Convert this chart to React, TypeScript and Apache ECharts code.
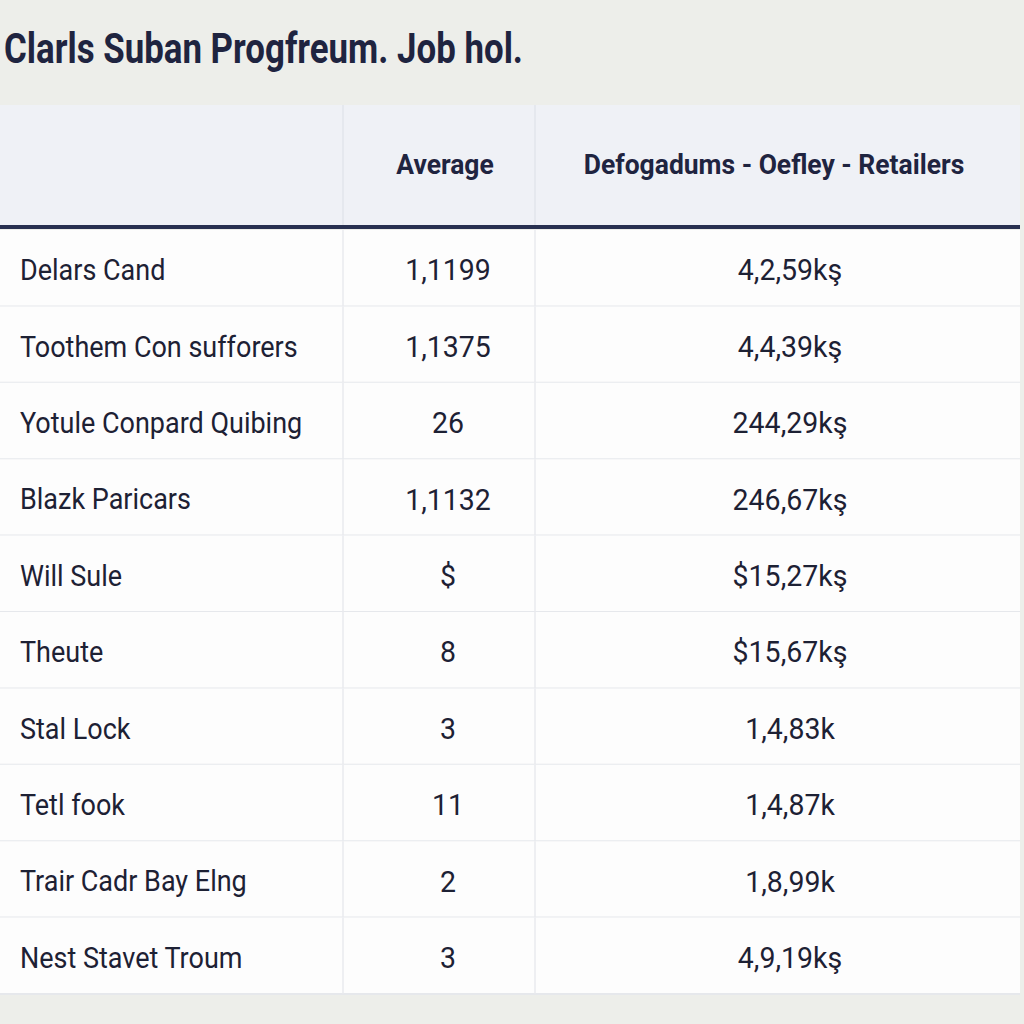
import React, { useEffect, useRef } from "react";
import * as echarts from "echarts";

const titleText = "Clarls Suban Progfreum. Job hol.";
const columnHeaders = ["", "Average", "Defogadums - Oefley - Retailers"];
const rowNames = [
  "Delars Cand",
  "Toothem Con sufforers",
  "Yotule Conpard Quibing",
  "Blazk Paricars",
  "Will Sule",
  "Theute",
  "Stal Lock",
  "Tetl fook",
  "Trair Cadr Bay Elng",
  "Nest Stavet Troum",
];
const averages = ["1,1199", "1,1375", "26", "1,1132", "$", "8", "3", "11", "2", "3"];
const retailers = [
  "4,2,59kş",
  "4,4,39kş",
  "244,29kş",
  "246,67kş",
  "$15,27kş",
  "$15,67kş",
  "1,4,83k",
  "1,4,87k",
  "1,8,99k",
  "4,9,19kş",
];

// layout (pixels)
const COL_EDGES = [0, 343, 535, 1020];
const NAME_X = 20;
const AVG_CX = 448;
const RET_CX = 790;
const HEADER_TOP = 105;
const HEADER_BOTTOM = 225;
const FONT = "Roboto, 'Noto Sans', sans-serif";
const TEXT_COLOR = "#1d2134";
const HEAD_COLOR = "#1f2440";

export default function App() {
  const ref = useRef<HTMLDivElement>(null);
  useEffect(() => {
    const chart = echarts.init(ref.current!, null, { renderer: "svg" });
    const cellText = (text: string, x: number, y: number, align: string, scaleX: number) => ({
      type: "text",
      x,
      y,
      scaleX,
      style: {
        text,
        fill: TEXT_COLOR,
        fontSize: 30,
        fontFamily: FONT,
        align,
        verticalAlign: "middle",
      },
    });
    const headText = (text: string, x: number) => ({
      type: "text",
      x,
      y: 165,
      scaleX: 0.98,
      style: {
        text,
        fill: HEAD_COLOR,
        fontSize: 27,
        fontWeight: "bold",
        fontFamily: FONT,
        align: "center",
        verticalAlign: "middle",
      },
    });
    const option: any = {
      animation: false,
      backgroundColor: "#edeeea",
      grid: { left: 0, right: 4, top: 230, bottom: 30 },
      xAxis: { type: "value", min: 0, max: 1, show: false },
      yAxis: { type: "category", inverse: true, data: rowNames, show: false },
      series: [
        {
          type: "custom",
          silent: true,
          data: rowNames.map((_, i) => [0, i]),
          renderItem: (params: any, api: any) => {
            const i = params.dataIndex;
            const c = api.coord([0, i]);
            const h = api.size([0, 1])[1];
            const top = c[1] - h / 2;
            const cy = c[1] + 2;
            const width = COL_EDGES[3];
            return {
              type: "group",
              children: [
                { type: "rect", shape: { x: 0, y: top, width, height: h }, style: { fill: "#fdfdfd" } },
                {
                  type: "line",
                  shape: { x1: 0, y1: top + h, x2: width, y2: top + h },
                  style: { stroke: "#e6e8ec", lineWidth: 2 },
                },
                {
                  type: "line",
                  shape: { x1: COL_EDGES[1], y1: top, x2: COL_EDGES[1], y2: top + h },
                  style: { stroke: "#e8eaee", lineWidth: 1.5 },
                },
                {
                  type: "line",
                  shape: { x1: COL_EDGES[2], y1: top, x2: COL_EDGES[2], y2: top + h },
                  style: { stroke: "#e8eaee", lineWidth: 1.5 },
                },
                cellText(rowNames[i], NAME_X, cy, "left", 0.9),
                cellText(averages[i], AVG_CX, cy, "center", 0.95),
                cellText(retailers[i], RET_CX, cy, "center", 0.95),
              ],
            };
          },
        },
      ],
      graphic: [
        {
          type: "text",
          x: 4,
          y: 48,
          scaleX: 0.83,
          style: {
            text: titleText,
            fill: HEAD_COLOR,
            fontSize: 42,
            fontWeight: "bold",
            fontFamily: FONT,
            align: "left",
            verticalAlign: "middle",
          },
        },
        {
          type: "rect",
          shape: { x: 0, y: HEADER_TOP, width: COL_EDGES[3], height: HEADER_BOTTOM - HEADER_TOP },
          style: { fill: "#eff1f6" },
        },
        {
          type: "line",
          shape: { x1: COL_EDGES[1], y1: HEADER_TOP, x2: COL_EDGES[1], y2: HEADER_BOTTOM },
          style: { stroke: "#e2e5eb", lineWidth: 1.5 },
        },
        {
          type: "line",
          shape: { x1: COL_EDGES[2], y1: HEADER_TOP, x2: COL_EDGES[2], y2: HEADER_BOTTOM },
          style: { stroke: "#e2e5eb", lineWidth: 1.5 },
        },
        headText(columnHeaders[1], 445),
        headText(columnHeaders[2], 774),
        {
          type: "rect",
          shape: { x: 0, y: HEADER_BOTTOM, width: COL_EDGES[3], height: 4 },
          style: { fill: "#283050" },
        },
      ],
    };
    chart.setOption(option);
    return () => chart.dispose();
  }, []);
  return (
    <div
      ref={ref}
      style={{ position: "absolute", left: 0, top: 0, width: 1024, height: 1024 }}
    />
  );
}
